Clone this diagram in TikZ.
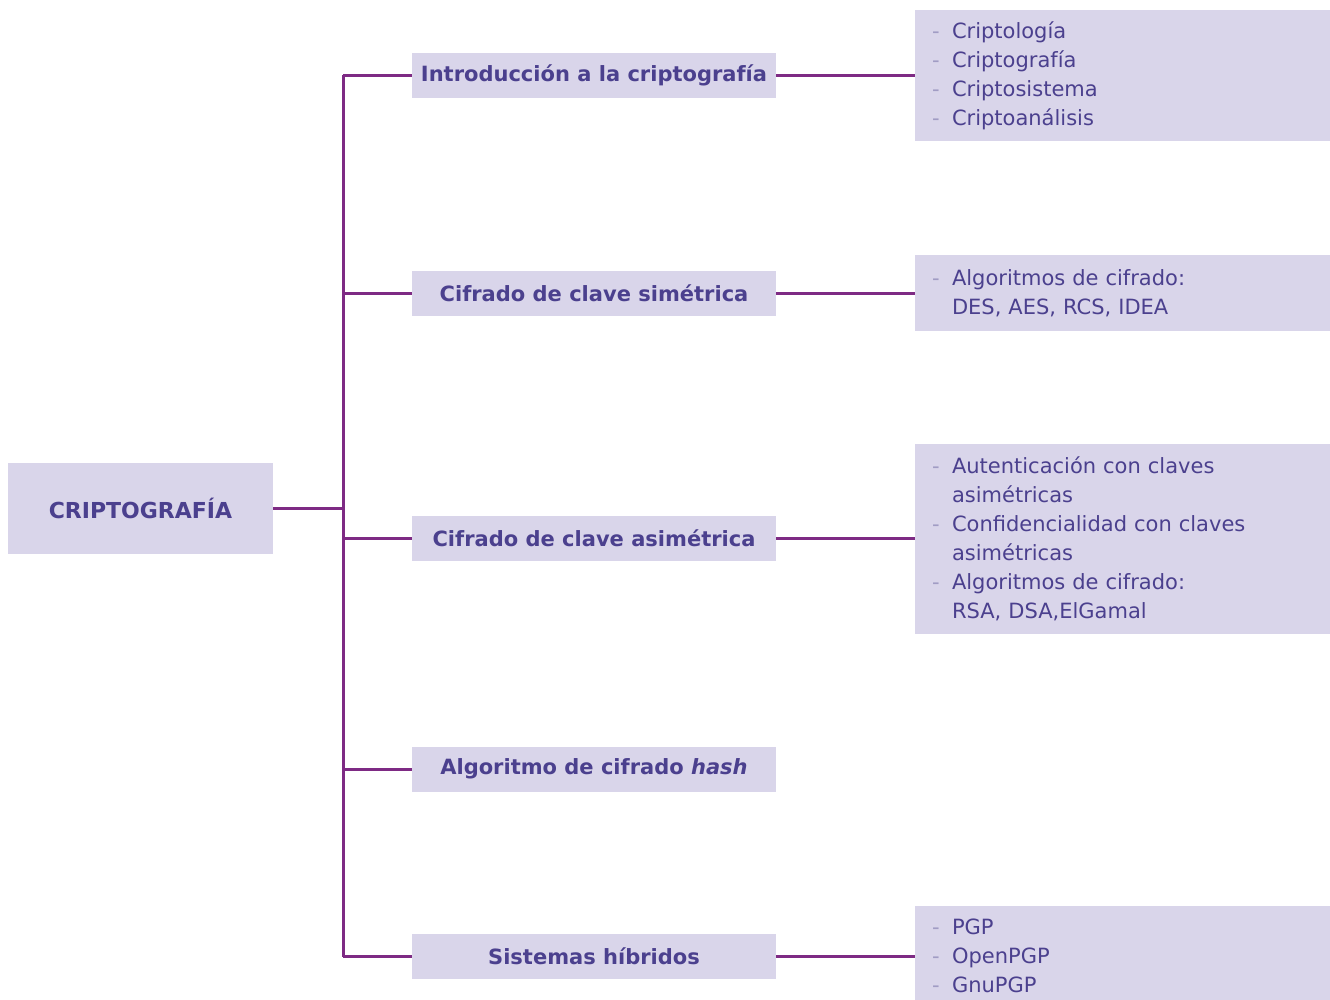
\documentclass[tikz,border=0pt]{standalone}
\usepackage{fontspec}
\setmainfont{DejaVu Sans}
\definecolor{boxfill}{HTML}{D9D5EA}
\definecolor{txtc}{HTML}{4B408E}
\definecolor{lnc}{HTML}{7E2A84}
\definecolor{dashc}{HTML}{A19CC4}
\newcommand\myitem[1]{\makebox[20pt][l]{\textcolor{dashc}{-}}#1}
\newcommand\mycont[1]{\hspace*{20pt}#1}
\begin{document}
\begin{tikzpicture}[x=1pt,y=-1pt,
  box/.style={fill=boxfill, draw=none, inner sep=0pt, text=txtc},
  rootbox/.style={box, minimum width=265pt, minimum height=91pt, font=\bfseries\fontsize{22}{26}\selectfont},
  midbox/.style={box, minimum width=364pt, minimum height=45pt, font=\bfseries\fontsize{21}{26}\selectfont},
  rightbox/.style={box, inner xsep=17pt, text width=381pt, align=left, font=\fontsize{21}{29}\selectfont},
  conn/.style={draw=lnc, line width=3pt}]
\useasboundingbox (0,0) rectangle (1330,1000);

\node[rootbox] (root) at (140.5,508.5) {CRIPTOGRAFÍA};

\node[midbox] (intro) at (594,75.5) {Introducción a la criptografía};
\node[midbox] (sim) at (594,293.5) {Cifrado de clave simétrica};
\node[midbox] (asim) at (594,538.5) {Cifrado de clave asimétrica};
\node[midbox] (hash) at (594,769) {Algoritmo de cifrado \textit{hash}};
\node[midbox] (hib) at (594,956.5) {Sistemas híbridos};

\node[rightbox, minimum height=131pt] (r1) at (1122.5,75.5) {\myitem{Criptología}\\\myitem{Criptografía}\\\myitem{Criptosistema}\\\myitem{Criptoanálisis}};
\node[rightbox, minimum height=76pt] (r2) at (1122.5,293) {\myitem{Algoritmos de cifrado:}\\\mycont{DES, AES, RCS, IDEA}};
\node[rightbox, minimum height=190pt] (r3) at (1122.5,539) {\myitem{Autenticación con claves}\\\mycont{asimétricas}\\\myitem{Confidencialidad con claves}\\\mycont{asimétricas}\\\myitem{Algoritmos de cifrado:}\\\mycont{RSA, DSA,ElGamal}};
\node[rightbox, minimum height=100pt] (r5) at (1122.5,956) {\myitem{PGP}\\\myitem{OpenPGP}\\\myitem{GnuPGP}};

\coordinate (jr) at (343,508.5);
\coordinate (j1) at (343,75.5);
\coordinate (j2) at (343,293.5);
\coordinate (j3) at (343,538.5);
\coordinate (j4) at (343,769);
\coordinate (j5) at (343,956.5);

\draw[conn] (j1) -- (j5);
\draw[conn] (root.east) -- (jr);
\draw[conn] (j1) -- (intro.west);
\draw[conn] (j2) -- (sim.west);
\draw[conn] (j3) -- (asim.west);
\draw[conn] (j4) -- (hash.west);
\draw[conn] (j5) -- (hib.west);

\draw[conn] (intro.east) -- (intro.east -| r1.west);
\draw[conn] (sim.east) -- (sim.east -| r2.west);
\draw[conn] (asim.east) -- (asim.east -| r3.west);
\draw[conn] (hib.east) -- (hib.east -| r5.west);
\end{tikzpicture}
\end{document}
